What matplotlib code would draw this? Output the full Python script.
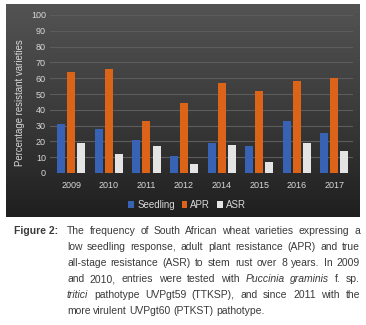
import numpy as np
import matplotlib
matplotlib.use('Agg')
import matplotlib.pyplot as plt
from matplotlib.patches import Patch

# data
years = ['2009', '2010', '2011', '2012', '2014', '2015', '2016', '2017']
seedling = [31, 28, 21, 11, 19, 17, 33, 25]
apr = [64, 66, 33, 44, 57, 52, 58, 60]
asr = [19, 12, 17, 6, 18, 7, 19, 14]
series_names = ['Seedling', 'APR', 'ASR']
yticks = list(range(0, 101, 10))

caption_label = 'Figure 2:'
caption_lines = [
    [('The frequency of South African wheat varieties expressing a', False)],
    [('low seedling response, adult plant resistance (APR) and true', False)],
    [('all-stage resistance (ASR) to stem rust over 8 years. In 2009', False)],
    [('and 2010, entries were tested with', False), ('Puccinia graminis', True), ('f. sp.', False)],
    [('tritici', True), ('pathotype UVPgt59 (TTKSP), and since 2011 with the', False)],
    [('more virulent UVPgt60 (PTKST) pathotype.', False)],
]

W, H = 366, 325
plt.rcParams['font.family'] = ['Liberation Sans', 'DejaVu Sans']

fig = plt.figure(figsize=(W / 100, H / 100), dpi=100)
fig.patch.set_facecolor('white')


def fx(px):
    return px / W


def fy(py):
    return 1 - py / H


# dark gradient panel behind the chart
bg = fig.add_axes([fx(6), fy(217), fx(354), (217 - 4) / H], zorder=0)
grad = np.linspace(0, 1, 256).reshape(-1, 1)
cmap = matplotlib.colors.LinearSegmentedColormap.from_list('bg', ['#535353', '#3b3b3b', '#1f1f1f'])
bg.imshow(grad, aspect='auto', cmap=cmap, extent=[0, 1, 0, 1], origin='upper')
bg.axis('off')

ax = fig.add_axes([fx(50), fy(173), fx(303), (173 - 15) / H], zorder=1)
ax.patch.set_alpha(0)

x = np.arange(len(years))
bw = 0.213
off = 0.267
colors = ['#3863b5', '#dc6418', '#e4e4e4']
for i, (vals, c) in enumerate(zip([seedling, apr, asr], colors)):
    ax.bar(x + (i - 1) * off, vals, width=bw, color=c, zorder=3)

ax.set_xlim(-0.57, 7.5)
ax.set_ylim(0, 100)
ax.set_yticks(yticks)
ax.set_xticks(x)
ax.set_xticklabels(years)
ax.grid(axis='y', color='#5c5c5c', linewidth=0.8, zorder=0)
for s in ax.spines.values():
    s.set_visible(False)
ax.tick_params(length=0, colors='#d8d8d8', labelsize=6.5)
ax.tick_params(axis='y', pad=3)
ax.tick_params(axis='x', pad=6)

fig.text(fx(20), fy(103), 'Percentage resistant varieties', rotation=90,
         ha='center', va='center', color='#d8d8d8', fontsize=6.9)

handles = [Patch(facecolor=c, edgecolor='none') for c in colors]
fig.legend(handles, series_names, loc='center', bbox_to_anchor=(fx(187), fy(205)),
           ncol=3, frameon=False, labelcolor='#d8d8d8', fontsize=7,
           handlelength=0.6, handleheight=0.6, handletextpad=0.3,
           columnspacing=0.7, borderpad=0)

# caption, justified by hand
cap_size = 7.5
fig.text(fx(14), fy(231), caption_label, fontsize=cap_size, fontweight='bold',
         color='#3a3a3a', va='center')

renderer = fig.canvas.get_renderer()
left, right = 67, 360
line_y = [231, 247, 263, 279, 295, 311]
for li, (segments, ly) in enumerate(zip(caption_lines, line_y)):
    words = []
    for seg, ital in segments:
        for w in seg.split(' '):
            words.append((w, ital))
    texts = []
    widths = []
    for w, ital in words:
        t = fig.text(0, fy(ly), w, color='#3a3a3a', va='center', fontsize=cap_size,
                     style='italic' if ital else 'normal')
        texts.append(t)
        widths.append(t.get_window_extent(renderer).width)
    last = li == len(caption_lines) - 1
    space = 2.6 if last else max(1.5, (right - left - sum(widths)) / (len(words) - 1))
    pos = left
    for t, wd in zip(texts, widths):
        t.set_x(fx(pos))
        pos += wd + space

fig.savefig('out.png', dpi=100)
